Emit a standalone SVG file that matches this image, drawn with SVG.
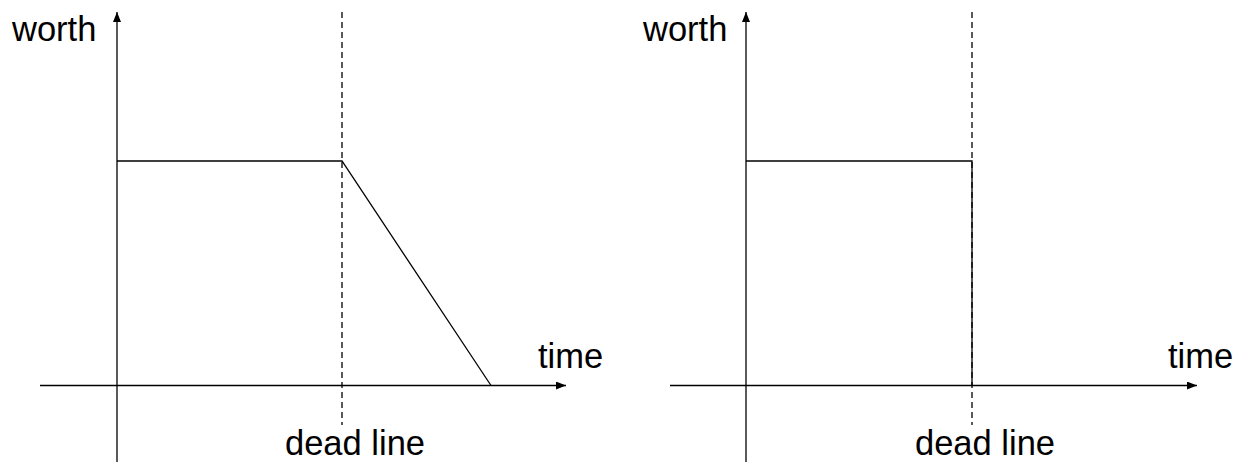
<svg xmlns="http://www.w3.org/2000/svg" width="1237" height="463" viewBox="0 0 1237 463">
<style>
.ln{stroke:#000;stroke-width:1.3;fill:none}
.ds{stroke:#000;stroke-width:1.3;fill:none;stroke-dasharray:6,4}
.t{font-family:"Liberation Sans",Arial,sans-serif;font-size:34.5px;fill:#000}
</style>
<defs>
<marker id="ah" markerWidth="10" markerHeight="8" refX="10" refY="4" orient="auto" markerUnits="userSpaceOnUse">
<path d="M0,0 L10,4 L0,8 Z" fill="#000"/>
</marker>
</defs>
<g id="connectors">
<line class="ln" x1="117" y1="462" x2="117" y2="12" marker-end="url(#ah)"/>
<line class="ln" x1="40" y1="385.5" x2="566" y2="385.5" marker-end="url(#ah)"/>
<line class="ds" x1="342" y1="12" x2="342" y2="425"/>
<polyline class="ln" points="117,161 342,161 491,385.5"/>
<line class="ln" x1="746" y1="462" x2="746" y2="12" marker-end="url(#ah)"/>
<line class="ln" x1="670" y1="385.5" x2="1197" y2="385.5" marker-end="url(#ah)"/>
<line class="ds" x1="972" y1="12" x2="972" y2="425"/>
<polyline class="ln" points="746,161 972,161 972,385.5"/>
</g>
<g id="left-worth"><text class="t" x="12" y="41">worth</text></g>
<g id="left-time"><text class="t" x="538" y="368">time</text></g>
<g id="left-deadline"><text class="t" x="355" y="455" text-anchor="middle">dead line</text></g>
<g id="right-worth"><text class="t" x="643" y="41">worth</text></g>
<g id="right-time"><text class="t" x="1168" y="368">time</text></g>
<g id="right-deadline"><text class="t" x="985" y="455" text-anchor="middle">dead line</text></g>
</svg>
